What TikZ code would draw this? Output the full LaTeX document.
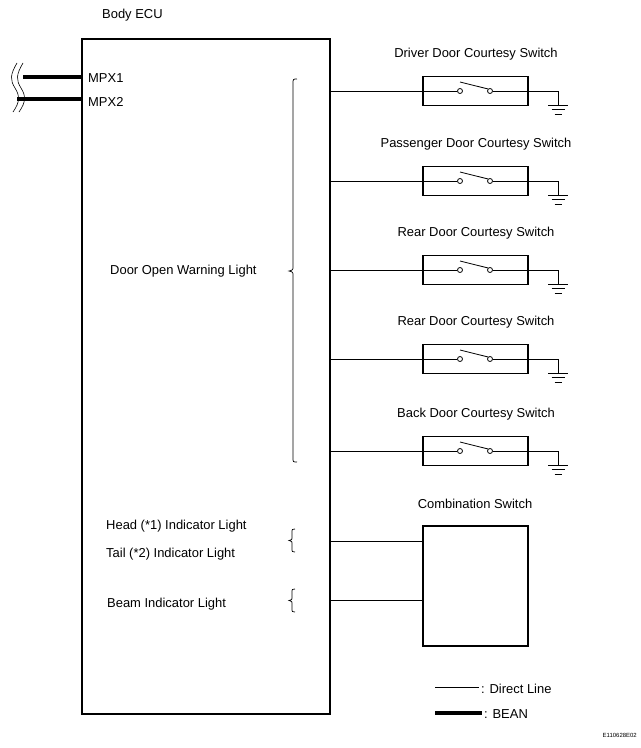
\documentclass[tikz,border=0pt]{standalone}
\usepackage{fontspec}
\setmainfont{Liberation Sans}
\begin{document}
\begin{tikzpicture}[x=1bp,y=-1bp,
  every node/.style={font=\fontsize{13}{15}\selectfont, inner sep=0pt},
  lbl/.style={anchor=west, yshift=-1.5bp},
  ttl/.style={anchor=center, yshift=-1.5bp},
  thinline/.style={line width=0.8bp},
  bean/.style={line width=4.2bp},
  swbox/.style={draw, line width=1.1bp, minimum width=105bp, minimum height=29bp},
  contact/.style={draw, circle, line width=0.8bp, minimum size=5bp, fill=white},
  brc/.style={line width=0.7bp}
]
\useasboundingbox (0,0) rectangle (641,748);

% Body ECU
\node[lbl] (ecut) at (102,14) {Body ECU};
\node[draw, line width=1.3bp, minimum width=248bp, minimum height=675bp] (ecu) at (206,376.5) {};

% MPX lines
\coordinate (m1) at (23,77);
\coordinate (m2) at (17,99);
\draw[bean] (m1) -- (m1 -| ecu.west);
\draw[bean] (m2) -- (m2 -| ecu.west);
\node[lbl] (mpx1) at (88,77) {MPX1};
\node[lbl] (mpx2) at (88,100) {MPX2};
% break marks
\draw[line width=0.6bp] (17,63) .. controls (10,75) and (10,80) .. (15,88) .. controls (20,96) and (20,102) .. (13,112);
\draw[line width=0.6bp] (23,63) .. controls (16,75) and (16,80) .. (21,88) .. controls (26,96) and (26,102) .. (19,112);

% inner labels
\node[lbl] (dow) at (110,270) {Door Open Warning Light};
\node[lbl] (head) at (106,525) {Head (*1) Indicator Light};
\node[lbl] (tail) at (106,553) {Tail (*2) Indicator Light};
\node[lbl] (beam) at (107,603) {Beam Indicator Light};

% braces
\draw[brc] (297,79) .. controls (293,79) .. (293,84) -- (293,266) .. controls (293,270) .. (289,271) .. controls (293,272) .. (293,276) -- (293,458) .. controls (293,462) .. (297,462);
\draw[brc] (295,529) .. controls (292,529) .. (292,533) -- (292,536) .. controls (292,540) .. (289,540.5) .. controls (292,541) .. (292,545) -- (292,548) .. controls (292,552) .. (295,552);
\draw[brc] (295,589) .. controls (292,589) .. (292,593) -- (292,596) .. controls (292,600) .. (289,600.5) .. controls (292,601) .. (292,605) -- (292,608) .. controls (292,612) .. (295,612);

% courtesy switches
\foreach \i/\yy/\name in {1/91/Driver Door Courtesy Switch,
                          2/181/Passenger Door Courtesy Switch,
                          3/270/Rear Door Courtesy Switch,
                          4/359/Rear Door Courtesy Switch,
                          5/451/Back Door Courtesy Switch}{
  \node[ttl] (t\i) at (476,\yy-38) {\name};
  \node[swbox] (sw\i) at (475.5,\yy) {};
  \node[contact] (ca\i) at (460,\yy) {};
  \node[contact] (cb\i) at (490,\yy) {};
  \coordinate (lv\i) at (460,\yy-9);
  \coordinate (g\i) at (558,\yy+14);
  \draw[thinline] (sw\i -| ecu.east) -- (sw\i.west);
  \draw[thinline] (sw\i.west) -- (ca\i.west);
  \draw[thinline] (cb\i.east) -- (sw\i.east);
  \draw[thinline] (cb\i.north west) -- (lv\i);
  \draw[thinline] (sw\i.east) -- (sw\i -| g\i) -- (g\i);
  \draw[thinline] ([xshift=-10bp]g\i) -- ([xshift=10bp]g\i);
  \draw[thinline] ([xshift=-6.5bp,yshift=-4.5bp]g\i) -- ([xshift=6.5bp,yshift=-4.5bp]g\i);
  \draw[thinline] ([xshift=-3.5bp,yshift=-9bp]g\i) -- ([xshift=3.5bp,yshift=-9bp]g\i);
}

% combination switch
\node[ttl] (cst) at (475,502) {Combination Switch};
\node[draw, line width=1.1bp, minimum width=105bp, minimum height=120bp] (cs) at (475.5,586) {};
\coordinate (r1) at (330,541);
\coordinate (r2) at (330,600);
\draw[thinline] (r1) -- (r1 -| cs.west);
\draw[thinline] (r2) -- (r2 -| cs.west);

% legend
\coordinate (la) at (435,687);
\coordinate (lb) at (479,687);
\draw[thinline] (la) -- (lb);
\node[lbl] (ldl) at (481,687) {: Direct Line};
\coordinate (lc) at (435,713);
\coordinate (ld) at (482,713);
\draw[bean] (lc) -- (ld);
\node[lbl] (lbn) at (484,713) {: BEAN};

\node[anchor=east, font=\fontsize{6}{7}\selectfont] (code) at (637,735) {E110628E02};
\end{tikzpicture}
\end{document}
